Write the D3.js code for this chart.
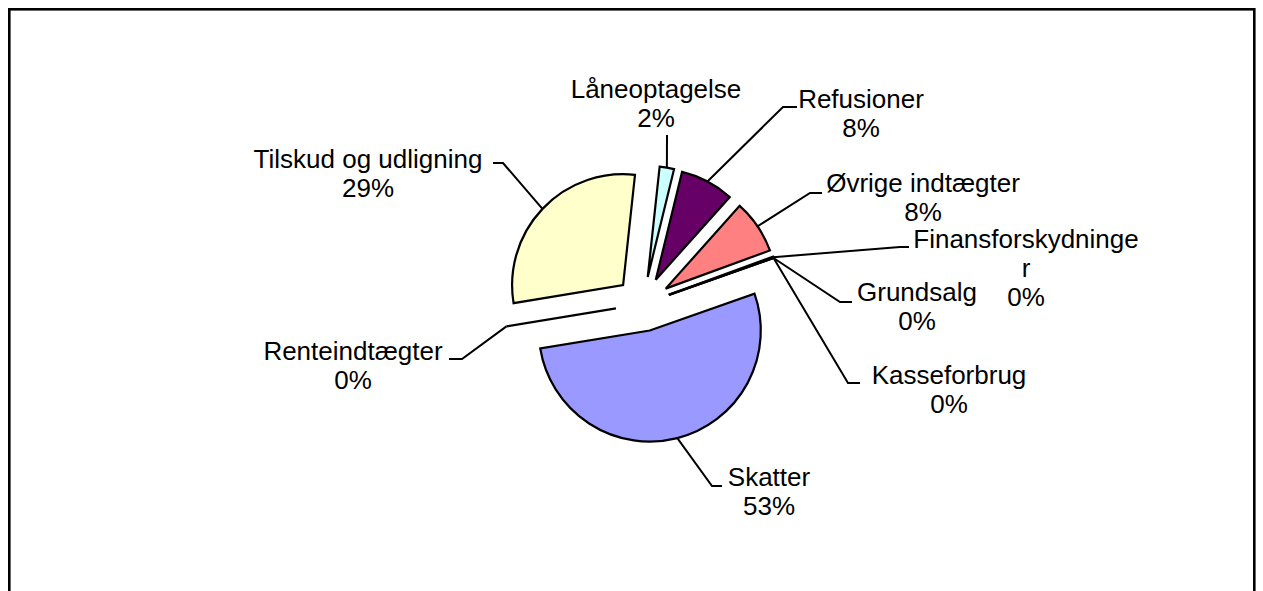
<!DOCTYPE html>
<html lang="da">
<head>
<meta charset="UTF-8">
<title>Indtægter</title>
<script src="https://d3js.org/d3.v7.min.js"></script>
<style>
  body { margin: 0; background: #fff; }
  svg { display: block; }
  .label { font-family: "Liberation Sans", Arial, sans-serif; font-size: 26px; fill: #000; }
</style>
</head>
<body>
<div id="chart"></div>
<script>
// slices in sheet order (Excel draws them clockwise from the first-slice angle)
const categories = ["Skatter", "Renteindtægter", "Tilskud og udligning", "Låneoptagelse",
    "Refusioner", "Øvrige indtægter", "Finansforskydninger", "Grundsalg", "Kasseforbrug"];
const shares = [52.8, 0, 29.3, 2.1, 7.8, 7.8, 0.2, 0, 0];
const colors = ["#9999FF", "#993366", "#FFFFCC", "#CCFFFF", "#660066", "#FF8080", "#0066CC", "#CCCCFF", "#000080"];

// label placement (text centre x, first baseline y, leader elbow, end of the short horizontal, wrap width)
const labelLayout = [
    { tx: 769, ty: 486, ex: 712, ey: 486, hx: 722 },
    { tx: 353, ty: 360, ex: 462, ey: 359, hx: 449 },
    { tx: 368, ty: 168, ex: 503, ey: 163, hx: 493 },
    { tx: 656, ty: 98,  ex: 667, ey: 135, hx: 667 },
    { tx: 861, ty: 108, ex: 783, ey: 107, hx: 797 },
    { tx: 923, ty: 192, ex: 810, ey: 193, hx: 822 },
    { tx: 1026, ty: 248, ex: 900, ey: 247, hx: 909, w: 228 },
    { tx: 917, ty: 301, ex: 840, ey: 302, hx: 852 },
    { tx: 949, ty: 384, ex: 848, ey: 383, hx: 860 }
];

const W = 1263, H = 591;
const cx = 643, cy = 304, radius = 111, explode = 27.4;
const firstAngle = 70.6 * Math.PI / 180;
const lineH = 29;

const svg = d3.select("#chart").append("svg")
    .attr("width", W)
    .attr("height", H);

// chart area border (bottom edge runs past the picture)
svg.append("rect")
    .attr("x", 9.3).attr("y", 9.3)
    .attr("width", 1245).attr("height", 620)
    .attr("fill", "#fff")
    .attr("stroke", "#000")
    .attr("stroke-width", 2.6);

const total = d3.sum(shares);
const pie = d3.pie().sort(null).value(d => d)
    .startAngle(firstAngle)
    .endAngle(firstAngle + 2 * Math.PI);
const arcs = pie(shares);
const arc = d3.arc().innerRadius(0).outerRadius(radius);

const g = svg.append("g").attr("transform", "translate(" + cx + "," + cy + ")");

function polar(r, a) {
    return [r * Math.sin(a), -r * Math.cos(a)];
}

g.selectAll("path.slice")
    .data(arcs)
    .enter()
    .append("path")
    .attr("class", "slice")
    .attr("d", arc)
    .attr("transform", d => {
        const p = polar(explode, (d.startAngle + d.endAngle) / 2);
        return "translate(" + p[0] + "," + p[1] + ")";
    })
    .attr("fill", (d, i) => colors[i])
    .attr("stroke", "#000")
    .attr("stroke-width", 2.2);

// leader lines
svg.selectAll("polyline.leader")
    .data(arcs)
    .enter()
    .append("polyline")
    .attr("class", "leader")
    .attr("points", (d, i) => {
        const L = labelLayout[i];
        const p = polar(radius + explode, (d.startAngle + d.endAngle) / 2);
        return [[cx + p[0], cy + p[1]], [L.ex, L.ey], [L.hx, L.ey]].map(q => q.join(",")).join(" ");
    })
    .attr("fill", "none")
    .attr("stroke", "#000")
    .attr("stroke-width", 2);

// labels
const labels = svg.selectAll("text.label")
    .data(arcs)
    .enter()
    .append("text")
    .attr("class", "label")
    .attr("text-anchor", "middle")
    .attr("x", (d, i) => labelLayout[i].tx)
    .attr("y", (d, i) => labelLayout[i].ty);

labels.each(function (d, i) {
    const t = d3.select(this);
    const L = labelLayout[i];
    const name = categories[i];
    const lines = [];
    if (L.w) {
        // break inside the word like Excel does when the label is too wide
        const probe = t.append("tspan").text("");
        let cur = "";
        for (const ch of name) {
            probe.text(cur + ch);
            if (probe.node().getComputedTextLength() > L.w && cur) {
                lines.push(cur);
                cur = ch;
            } else {
                cur += ch;
            }
        }
        lines.push(cur);
        probe.remove();
    } else {
        lines.push(name);
    }
    lines.push(Math.round(d.data / total * 100) + "%");
    lines.forEach((s, k) => {
        t.append("tspan")
            .attr("x", L.tx)
            .attr("dy", k === 0 ? 0 : lineH)
            .text(s);
    });
});
</script>
</body>
</html>
